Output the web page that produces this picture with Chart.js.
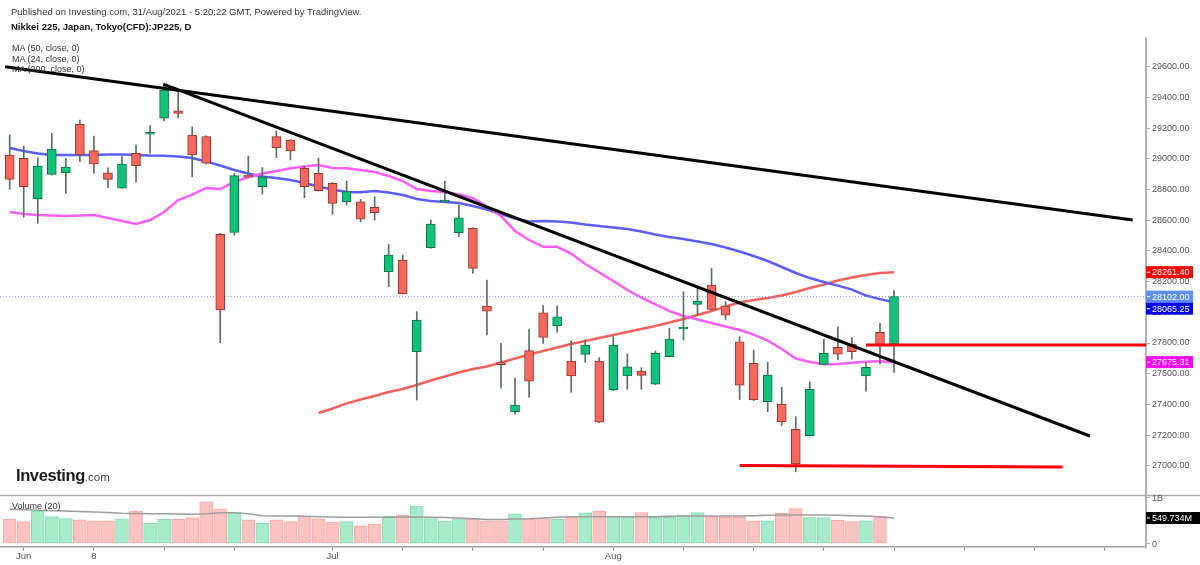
<!DOCTYPE html>
<html>
<head>
<meta charset="utf-8">
<script src="https://cdn.jsdelivr.net/npm/chart.js@4.4.0/dist/chart.umd.min.js"></script>
<style>
  html, body { margin: 0; padding: 0; background: #fff; }
  #wrap { position: relative; width: 1200px; height: 565px; font-family: "Liberation Sans", Arial, sans-serif; color: #333; }
  #grafico { position: absolute; left: 0; top: 0; }
  .txt { position: absolute; white-space: nowrap; font-size: 9.5px; line-height: 11px; }
  .logo { position: absolute; left: 16px; top: 466px; white-space: nowrap; color: #1a1a1a; }
  .logo b { font-size: 16.5px; letter-spacing: -0.4px; }
  .logo span { font-size: 11.5px; color: #444; }
</style>
</head>
<body>
<div id="wrap">
  <canvas id="grafico" width="1200" height="565"></canvas>
  <div class="txt" style="left:11px; top:6px;">Published on Investing.com, 31/Aug/2021 - 5:20:22 GMT, Powered by TradingView.</div>
  <div class="txt" style="left:11px; top:21px; font-weight:bold; color:#111;">Nikkei 225, Japan, Tokyo(CFD):JP225, D</div>
  <div class="txt" style="left:12px; top:43px; font-size:9px;">MA (50, close, 0)</div>
  <div class="txt" style="left:12px; top:54px; font-size:9px;">MA (24, close, 0)</div>
  <div class="txt" style="left:12px; top:64px; font-size:9px;">MA (200, close, 0)</div>
  <div class="logo"><b>Investing</b><span>.com</span></div>
  <div class="txt" style="left:12px; top:501px; font-size:9px;">Volume (20)</div>
</div>
<script>
// trading days shown, first one is May 31 (bar index -1, Jun 1 = 0)
const firstBar = -1;
const dates = [
  '2021-05-31','2021-06-01','2021-06-02','2021-06-03','2021-06-04','2021-06-07','2021-06-08','2021-06-09','2021-06-10','2021-06-11',
  '2021-06-14','2021-06-15','2021-06-16','2021-06-17','2021-06-18','2021-06-21','2021-06-22','2021-06-23','2021-06-24','2021-06-25',
  '2021-06-28','2021-06-29','2021-06-30','2021-07-01','2021-07-02','2021-07-05','2021-07-06','2021-07-07','2021-07-08','2021-07-09',
  '2021-07-12','2021-07-13','2021-07-14','2021-07-15','2021-07-16','2021-07-19','2021-07-20','2021-07-21','2021-07-26','2021-07-27',
  '2021-07-28','2021-07-29','2021-07-30','2021-08-02','2021-08-03','2021-08-04','2021-08-05','2021-08-06','2021-08-10','2021-08-11',
  '2021-08-12','2021-08-13','2021-08-16','2021-08-17','2021-08-18','2021-08-19','2021-08-20','2021-08-23','2021-08-24','2021-08-25',
  '2021-08-26','2021-08-27','2021-08-30','2021-08-31'
];

const openP = [
  29025, 29003, 28738, 28899, 28909, 29225, 29053, 28909, 28808, 29036,
  29160, 29264, 29313, 29155, 29144, 28508, 28521, 28892, 28818, 29144,
  29122, 28938, 28905, 28840, 28720, 28720, 28684, 28264, 28341, 27743,
  28421, 28718, 28518, 28547, 28041, 27671, 27352, 27750, 27997, 27913,
  27683, 27726, 27683, 27494, 27585, 27617, 27531, 27711, 27891, 28052,
  28178, 28041, 27808, 27668, 27417, 27402, 27238, 27196, 27661, 27772,
  27793, 27585, 27870, 27793
];
const highP = [
  29155, 29083, 29007, 29166, 29003, 29253, 29148, 28942, 29014, 29090,
  29216, 29485, 29448, 29209, 29150, 28515, 28905, 29018, 28942, 29181,
  29125, 28953, 29003, 28845, 28855, 28736, 28753, 28443, 28373, 28004,
  28601, 28855, 28699, 28550, 28210, 27798, 27570, 27889, 28043, 28041,
  27813, 27819, 27704, 27846, 27728, 27639, 27748, 27896, 28134, 28156,
  28286, 28069, 27841, 27754, 27674, 27511, 27320, 27548, 27826, 27906,
  27837, 27674, 27928, 28141
];
const lowP = [
  28801, 28619, 28580, 28894, 28775, 28981, 28905, 28812, 28808, 28847,
  29036, 29246, 29268, 28883, 28965, 27802, 28503, 28879, 28771, 29007,
  28992, 28746, 28790, 28638, 28699, 28590, 28601, 28167, 28119, 27428,
  28417, 28718, 28492, 28254, 27852, 27505, 27337, 27446, 27798, 27870,
  27479, 27674, 27280, 27490, 27498, 27498, 27528, 27708, 27819, 27982,
  28015, 27954, 27433, 27425, 27352, 27261, 26961, 27192, 27658, 27689,
  27694, 27487, 27663, 27609
];
const closeP = [
  28866, 28818, 28953, 29064, 28946, 29025, 28966, 28866, 28966, 28955,
  29168, 29448, 29296, 29025, 28971, 28015, 28890, 28881, 28883, 29072,
  29051, 28818, 28792, 28710, 28786, 28606, 28649, 28373, 28119, 27950,
  28575, 28725, 28616, 28286, 28008, 27659, 27396, 27552, 27837, 27971,
  27585, 27787, 27285, 27787, 27644, 27589, 27733, 27826, 27896, 28073,
  28019, 27982, 27526, 27429, 27591, 27287, 27012, 27498, 27733, 27728,
  27743, 27642, 27791, 28102
];

// volume in millions, last day not shown yet
const volume = [
  520, 470, 700, 580, 540, 510, 490, 490, 530, 700,
  435, 520, 520, 560, 900, 750, 670, 510, 435, 510,
  470, 590, 530, 460, 470, 380, 420, 590, 615, 810,
  540, 490, 540, 530, 490, 490, 640, 520, 540, 520,
  560, 660, 700, 594, 565, 666, 565, 565, 615, 666,
  580, 565, 565, 490, 490, 650, 753, 557, 557, 507,
  470, 490, 580, null
];
const volumeMA = [
  740, 730, 720, 710, 700, 690, 680, 670, 655, 650,
  645, 640, 635, 630, 640, 665, 665, 640, 600, 595,
  593, 590, 580, 570, 565, 565, 565, 565, 570, 570,
  565, 560, 550, 535, 520, 520, 530, 535, 550, 565,
  575, 578, 578, 575, 575, 575, 580, 590, 593, 593,
  593, 593, 593, 600, 610, 615, 615, 615, 615, 610,
  600, 593, 575, 549.734
];

const ma50 = [
  29070, 29051, 29034, 29025, 29025, 29025, 29025, 29028, 29028, 29025,
  29021, 29020, 29015, 29005, 28982, 28956, 28927, 28904, 28885, 28875,
  28862, 28842, 28819, 28800, 28784, 28782, 28790, 28780, 28764, 28738,
  28725, 28718, 28712, 28692, 28670, 28640, 28611, 28591, 28595, 28591,
  28585, 28572, 28562, 28552, 28543, 28526, 28507, 28490, 28477, 28461,
  28445, 28422, 28396, 28367, 28334, 28295, 28256, 28223, 28197, 28174,
  28148, 28109, 28086, 28065.25
];
const ma24 = [
  28653, 28640, 28634, 28630, 28627, 28630, 28634, 28614, 28595, 28575,
  28601, 28653, 28731, 28767, 28810, 28803, 28849, 28881, 28904, 28920,
  28938, 28950, 28960, 28940, 28938, 28927, 28914, 28888, 28855, 28803,
  28790, 28784, 28767, 28743, 28689, 28627, 28530, 28471, 28427, 28427,
  28383, 28315, 28259, 28204, 28145, 28096, 28051, 28008, 27976, 27953,
  27930, 27907, 27885, 27855, 27816, 27761, 27699, 27676, 27661, 27664,
  27671, 27678, 27681, 27675.31
];
const ma200 = Array(22).fill(null).concat([
  27344, 27373, 27407, 27432, 27455, 27481, 27500, 27526, 27556, 27582,
  27608, 27631, 27647, 27673, 27699, 27725, 27748, 27771, 27793, 27813,
  27832, 27852, 27872, 27891, 27911, 27933, 27956, 27982, 28008, 28038,
  28064, 28080, 28093, 28109, 28132, 28158, 28181, 28207, 28227, 28243,
  28256, 28261.4
]);

// drawn lines: [bar index, price]
const trendLong = [[-1.33, 29600], [79.0, 28601]];
const trendShort = [[9.94, 29487], [75.95, 27194]];
const levelHigh = [[60, 27787], [79.95, 27787]];
const levelLow = [[51, 27002], [74, 26992]];

// axis ticks
const xTicks = [0, 5, 10, 15, 22, 27, 32, 37, 42, 47, 52, 57, 62, 67, 72, 77];
const xTickLabels = ['Jun', '8', '', '', 'Jul', '', '', '', 'Aug', '', '', '', '', '', '', ''];
const priceTicks = [27000, 27200, 27400, 27600, 27800, 28000, 28200, 28400, 28600, 28800, 29000, 29200, 29400, 29600];
const volTicks = [0, 1000];
const volTickLabels = ['0', '1B'];

const X_MIN = -1.69, X_MAX = 79.95;
const UP = '#12c27a', DOWN = '#f6675d';

const pts = arr => arr.map((v, k) => ({ x: k + firstBar, y: v })).filter(p => p.y !== null);
const seg = arr => arr.map(p => ({ x: p[0], y: p[1] }));
const isUp = k => closeP[k] >= openP[k];

// pane separator between price and volume
const paneLine = {
  id: 'paneLine',
  afterDraw(chart) {
    const { ctx } = chart;
    const y = Math.round(chart.scales.yv.getPixelForValue(1050)) + 0.5;
    ctx.save();
    ctx.strokeStyle = '#a9a9a9';
    ctx.lineWidth = 1.5;
    ctx.beginPath();
    ctx.moveTo(0, y);
    ctx.lineTo(chart.width, y);
    ctx.stroke();
    ctx.restore();
  }
};

// volume axis labels (the zero-width axis clips its own labels) and coloured value tags
const axisTags = {
  id: 'axisTags',
  afterDraw(chart) {
    const { ctx } = chart;
    const ys = chart.scales.y, yv = chart.scales.yv;
    const left = chart.chartArea.right;
    const last = closeP.length - 1;

    ctx.save();
    ctx.font = '9px "Liberation Sans", Arial, sans-serif';
    ctx.textBaseline = 'middle';
    ctx.fillStyle = '#555';
    yv.ticks.forEach((t, i) => {
      ctx.fillText(volTickLabels[i], left + 6, yv.getPixelForValue(t.value) + 1);
    });

    const tags = [
      { v: ma200[last], bg: '#ff0000' },
      { v: closeP[last], bg: '#5b8ef0' },
      { v: ma50[last], bg: '#0000ff' },
      { v: ma24[last], bg: '#ff00ff' }
    ].map(t => ({ ...t, txt: t.v.toFixed(2), py: ys.getPixelForValue(t.v), w: 47 }));
    tags.sort((a, b) => a.py - b.py);
    const h = 12;
    for (let k = 1; k < tags.length; k++) {
      if (tags[k].py - tags[k - 1].py < h) tags[k].py = tags[k - 1].py + h;
    }
    const vm = volumeMA[last];
    tags.push({ v: vm, bg: '#000', txt: vm.toFixed(3) + 'M', py: yv.getPixelForValue(vm), w: 54 });

    tags.forEach(t => {
      ctx.fillStyle = t.bg;
      ctx.fillRect(left, t.py - h / 2, t.w, h);
      ctx.fillStyle = '#fff';
      ctx.fillRect(left + 1, t.py - 0.5, 3, 1);
      ctx.fillText(t.txt, left + 6, t.py + 0.5);
    });
    ctx.restore();
  }
};

Chart.defaults.font.family = '"Liberation Sans", Arial, sans-serif';
Chart.defaults.font.size = 9;

const ctx = document.getElementById('grafico').getContext('2d');
new Chart(ctx, {
  type: 'bar',
  data: {
    datasets: [
      {
        label: 'Volume',
        yAxisID: 'yv',
        data: pts(volume),
        backgroundColor: volume.map((v, k) => isUp(k) ? '#a8ebcb' : '#fdc3c0'),
        borderColor: volume.map((v, k) => isUp(k) ? '#86dcb2' : '#f6a7a3'),
        borderWidth: 1,
        borderSkipped: false,
        barThickness: 13,
        grouped: false,
        order: 10
      },
      {
        type: 'line', label: 'Volume MA', yAxisID: 'yv',
        data: pts(volumeMA),
        borderColor: '#9d9d9d', borderWidth: 1.5, pointRadius: 0, order: 9
      },
      {
        type: 'line', label: 'MA 200',
        data: pts(ma200),
        borderColor: '#f5605a', borderWidth: 2.5, pointRadius: 0, order: 8
      },
      {
        type: 'line', label: 'MA 50',
        data: pts(ma50),
        borderColor: '#5c5cf6', borderWidth: 2.5, pointRadius: 0, order: 7
      },
      {
        type: 'line', label: 'MA 24',
        data: pts(ma24),
        borderColor: '#ff5cf8', borderWidth: 2.5, pointRadius: 0, order: 6
      },
      {
        type: 'line', label: 'Last',
        data: [{ x: X_MIN, y: closeP[closeP.length - 1] }, { x: X_MAX, y: closeP[closeP.length - 1] }],
        borderColor: '#7a8ff5', borderWidth: 1, borderDash: [1, 2], pointRadius: 0, order: 5
      },
      {
        label: 'Wicks',
        data: dates.map((d, k) => ({ x: k + firstBar, y: [lowP[k], highP[k]] })),
        backgroundColor: '#587062',
        borderWidth: 0,
        barThickness: 1,
        grouped: false,
        order: 4
      },
      {
        label: 'Candles',
        data: dates.map((d, k) => ({ x: k + firstBar, y: [openP[k], closeP[k]] })),
        backgroundColor: dates.map((d, k) => isUp(k) ? UP : DOWN),
        borderColor: dates.map((d, k) => isUp(k) ? '#0d7046' : '#8e3731'),
        borderWidth: 1,
        borderSkipped: false,
        barThickness: 9,
        minBarLength: 2,
        grouped: false,
        order: 3
      },
      {
        type: 'line', label: 'Trend long', data: seg(trendLong),
        borderColor: '#000', borderWidth: 3, pointRadius: 0, order: 2
      },
      {
        type: 'line', label: 'Trend short', data: seg(trendShort),
        borderColor: '#000', borderWidth: 3, pointRadius: 0, order: 2
      },
      {
        type: 'line', label: 'Level 27787', data: seg(levelHigh),
        borderColor: '#ff0000', borderWidth: 3, pointRadius: 0, order: 1
      },
      {
        type: 'line', label: 'Level 27000', data: seg(levelLow),
        borderColor: '#ff0000', borderWidth: 3, pointRadius: 0, order: 1
      }
    ]
  },
  options: {
    responsive: false,
    animation: false,
    layout: { padding: { top: 38, left: 0, right: 0, bottom: 0 } },
    plugins: {
      legend: { display: false },
      tooltip: { enabled: false }
    },
    scales: {
      x: {
        type: 'linear',
        min: X_MIN,
        max: X_MAX,
        offset: false,
        afterBuildTicks: s => { s.ticks = xTicks.map(v => ({ value: v })); },
        afterFit: s => { s.height = 18; },
        ticks: {
          autoSkip: false, maxRotation: 0, padding: 0, color: '#555',
          font: { size: 9.5 },
          callback: (v, i) => xTickLabels[i]
        },
        grid: { drawOnChartArea: false, offset: false, tickLength: 4, color: '#999' },
        border: { display: true, color: '#a0a0a0', width: 1.5 }
      },
      y: {
        position: 'right',
        weight: 1,
        min: 26471,
        max: 29787,
        afterBuildTicks: s => { s.ticks = priceTicks.map(v => ({ value: v })); },
        afterFit: s => { s.width = 54; },
        ticks: { autoSkip: false, padding: 2, color: '#555', callback: v => v.toFixed(2) },
        grid: { drawOnChartArea: false, tickLength: 4, color: '#aaa' },
        border: { display: true, color: '#b3b3b3', width: 2 }
      },
      yv: {
        position: 'right',
        weight: 0,
        min: -80,
        max: 10980,
        afterBuildTicks: s => { s.ticks = volTicks.map(v => ({ value: v })); },
        afterFit: s => { s.width = 0; },
        ticks: { autoSkip: false, padding: 2, color: '#555', callback: (v, i) => volTickLabels[i] },
        grid: { drawOnChartArea: false, tickLength: 4, color: '#aaa' },
        border: { display: false }
      }
    }
  },
  plugins: [paneLine, axisTags]
});
</script>
</body>
</html>
